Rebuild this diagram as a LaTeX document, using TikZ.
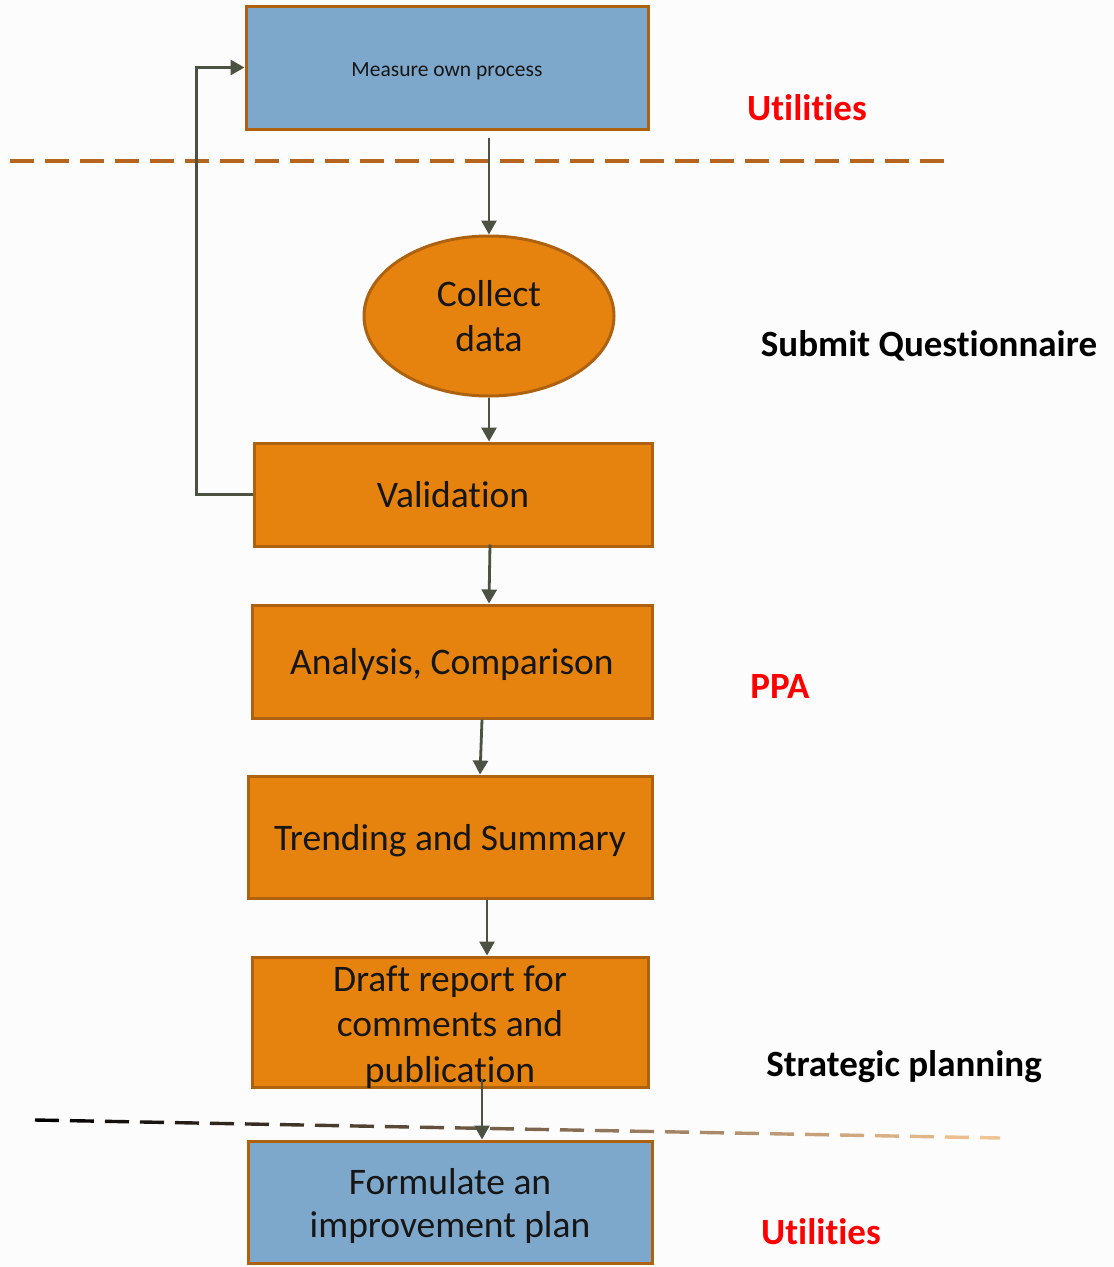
\documentclass[tikz,border=0pt]{standalone}
\usepackage{fontspec}
\setmainfont{Carlito}[Ligatures=NoCommon]
\usetikzlibrary{arrows.meta,calc,shapes.geometric}

\definecolor{boxorange}{HTML}{E6830F}
\definecolor{boxedge}{HTML}{AE620F}
\definecolor{boxblue}{HTML}{7EA8CB}
\definecolor{arrowgrey}{HTML}{4B5242}
\definecolor{labelred}{HTML}{FF0000}
\definecolor{topdash}{HTML}{B5651D}
\definecolor{dashend}{HTML}{F6C897}
\definecolor{inktext}{HTML}{161616}
\definecolor{paper}{HTML}{FCFCFC}

\begin{document}
\begin{tikzpicture}[x=1pt,y=-1pt,
  stepbox/.style={draw=boxedge,line width=3pt,fill=boxorange,inner sep=0pt,
    text=inktext,font=\fontsize{37.5}{45}\selectfont},
  oneline/.style={text height=35pt,text depth=9pt},
  bluebox/.style={stepbox,fill=boxblue},
  boxtext/.style={align=center,text=inktext,inner sep=0pt},
  sidelabel/.style={anchor=base,font=\fontsize{37}{44}\selectfont\bfseries},
  arr/.style={draw=arrowgrey,line width=2.8pt,-{Triangle[length=14pt,width=15pt]}}]

% page
\fill[paper] (0,0) rectangle (1114,1267);
\useasboundingbox (0,0) rectangle (1114,1267);

% band separators
\coordinate (tl) at (10,161);
\coordinate (tr) at (950,161);
\draw[topdash,line width=3.4pt,dash pattern=on 24pt off 11pt] (tl) -- (tr);

\coordinate (bl) at (35,1120);
\coordinate (br) at (1000,1138);
\foreach \i in {0,...,27}{
  \pgfmathsetmacro\ta{\i*35/965}
  \pgfmathsetmacro\tb{min((\i*35+24)/965,1)}
  \pgfmathtruncatemacro\p{100*(1-\ta)}
  \draw[color=black!\p!dashend,line width=3.4pt] ($(bl)!\ta!(br)$) -- ($(bl)!\tb!(br)$);
}

% process steps
\node[bluebox,minimum width=402pt,minimum height=123pt,text height=21pt,text depth=4pt,
      font=\fontsize{21.5}{26}\selectfont] (measure) at (447,67.5) {Measure own process};
\node[stepbox,align=center,ellipse,minimum width=250pt,minimum height=160pt] (collect) at (489,316) {Collect\\data};
\node[stepbox,oneline,minimum width=398pt,minimum height=103pt] (valid) at (453,494.5) {Validation};
\node[stepbox,oneline,minimum width=400pt,minimum height=113pt] (analysis) at (452,661.5) {Analysis, Comparison};
\node[stepbox,oneline,minimum width=404pt,minimum height=122pt] (trend) at (450,837) {Trending and Summary};
\node[stepbox,minimum width=396pt,minimum height=130pt] (draft) at (450,1022) {};
\node[boxtext,font=\fontsize{37.5}{45.5}\selectfont]
  (drafttext) at ($(draft.center)+(0,5)$) {Draft report for\\comments and\\publication};
\node[bluebox,minimum width=404pt,minimum height=122pt] (plan) at (450,1202) {};
\node[boxtext,font=\fontsize{37.5}{43}\selectfont]
  (plantext) at ($(plan.center)+(0,4)$) {Formulate an\\improvement plan};

% flow
\draw[arr] ($(measure.south)+(42,7)$) -- (collect.north);
\draw[arr] (collect.south) -- (collect.south |- valid.north);
\draw[arr] ($(valid.south)+(37,-3)$) -- ($(analysis.north)+(37,0)$);
\draw[arr] ($(analysis.south)+(30,0)$) -- ($(trend.north)+(30,0)$);
\draw[arr] ($(trend.south)+(37,0)$) -- ($(draft.north)+(37,0)$);
\draw[arr] ($(draft.south)+(32,-9)$) -- ($(plan.north)+(32,0)$);
\draw[arr] (valid.west) -- ++(-56,0) |- (measure.west);

% responsibility labels
\node[sidelabel,text=labelred] (util1) at (807,120) {Utilities};
\node[sidelabel,text=black] (submit) at (929,356) {Submit Questionnaire};
\node[sidelabel,text=labelred] (ppa) at (780,698) {PPA};
\node[sidelabel,text=black] (strat) at (904,1076) {Strategic planning};
\node[sidelabel,text=labelred] (util2) at (821,1244) {Utilities};
\end{tikzpicture}
\end{document}
